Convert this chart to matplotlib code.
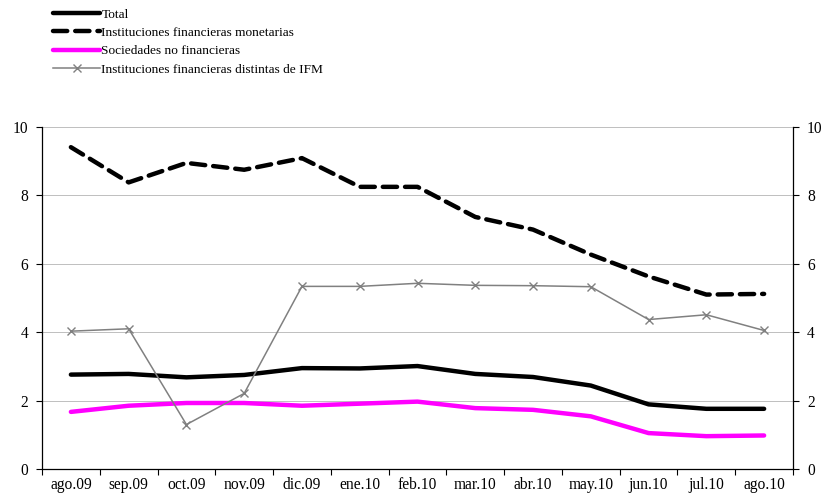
import numpy as np
import matplotlib
matplotlib.use("Agg")
import matplotlib.pyplot as plt

plt.rcParams['font.family'] = ['Liberation Serif', 'DejaVu Serif']

# data
months = ["ago.09", "sep.09", "oct.09", "nov.09", "dic.09", "ene.10", "feb.10",
          "mar.10", "abr.10", "may.10", "jun.10", "jul.10", "ago.10"]
total = [2.76, 2.78, 2.68, 2.75, 2.95, 2.94, 3.01, 2.78, 2.69, 2.44, 1.89, 1.76, 1.76]
ifm = [9.41, 8.38, 8.95, 8.75, 9.09, 8.25, 8.25, 7.37, 7.0, 6.27, 5.63, 5.10, 5.12]
snf = [1.67, 1.85, 1.93, 1.93, 1.85, 1.91, 1.97, 1.78, 1.73, 1.54, 1.05, 0.96, 0.98]
ifdm = [4.03, 4.10, 1.30, 2.21, 5.34, 5.34, 5.43, 5.37, 5.36, 5.33, 4.37, 4.51, 4.05]

fig = plt.figure(figsize=(8.28, 4.99), dpi=100)
ax = fig.add_axes([42/828, 1 - 469/499, 751/828, 342/499])

x = np.arange(len(months))
l1, = ax.plot(x, total, color='black', lw=3.2, solid_capstyle='round', label='Total')
l2, = ax.plot(x, ifm, color='black', lw=3.2, ls=(0, (3.2, 1.8)), dash_capstyle='round',
              label='Instituciones financieras monetarias')
l3, = ax.plot(x, snf, color='#ff00ff', lw=3.2, solid_capstyle='round',
              label='Sociedades no financieras')
l4, = ax.plot(x, ifdm, color='#808080', lw=1.1, marker='x', ms=6, mew=1.0,
              label='Instituciones financieras distintas de IFM')

ax.set_xlim(-0.5, len(months) - 0.5)
ax.set_ylim(0, 10)
ax.set_yticks([0, 2, 4, 6, 8, 10])
ax.set_xticks(x)
ax.set_xticklabels(months, fontsize=11.2)
ax.set_xticks(np.arange(-0.5, len(months), 1), minor=True)
ax.tick_params(axis='x', which='major', length=0, pad=6)
ax.tick_params(axis='x', which='minor', length=4, direction='out', width=0.8)
ax.tick_params(axis='y', length=4, direction='out', width=0.8, labelsize=11.2, pad=6,
               left=True, right=True, labelleft=True, labelright=True)
ax.yaxis.grid(True, color='#b4b4b4', lw=0.6)
ax.set_axisbelow(True)
ax.spines['top'].set_visible(False)
for s in ['left', 'right', 'bottom']:
    ax.spines[s].set_linewidth(0.9)

fig.legend(handles=[l1, l2, l3, l4], loc='upper left', bbox_to_anchor=(48/828, 1 - 3/499),
           frameon=False, fontsize=9.6, handlelength=3.5, handletextpad=0.1,
           labelspacing=0.45, borderaxespad=0)

fig.savefig('out.png', dpi=100)
